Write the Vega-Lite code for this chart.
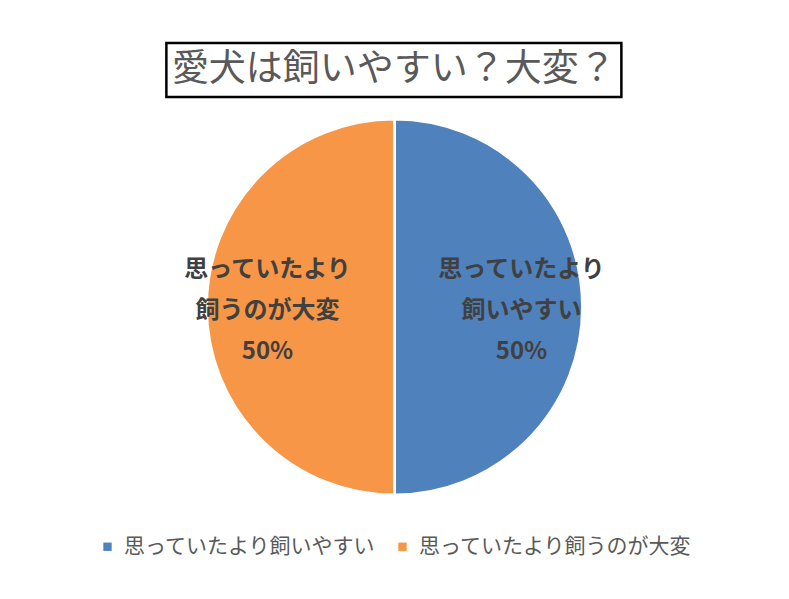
{
  "$schema": "https://vega.github.io/schema/vega-lite/v6.json",
  "padding": {"left": 0, "right": 0, "top": 41, "bottom": 0},
  "background": "white",
  "spacing": 11,
  "center": true,
  "config": {"font": "Noto Sans CJK JP", "legend": {"layout": {"bottom": {"anchor": "middle"}}}},
  "vconcat": [
    {
      "width": 455,
      "height": 54,
      "view": {"stroke": "#000000", "strokeWidth": 2.5, "fill": "white"},
      "data": {"values": [{"title": "愛犬は飼いやすい？大変？"}]},
      "mark": {"type": "text", "fontSize": 37, "color": "#595959", "align": "center", "baseline": "middle"},
      "encoding": {"text": {"field": "title"}}
    },
    {
      "width": 789,
      "height": 394,
      "view": {"stroke": null},
      "data": {
        "values": [
          {"answer": "思っていたより飼いやすい", "share": 50, "idx": 1, "label": "思っていたより\n飼いやすい\n50%"},
          {"answer": "思っていたより飼うのが大変", "share": 50, "idx": 2, "label": "思っていたより\n飼うのが大変\n50%"}
        ]
      },
      "encoding": {
        "theta": {"field": "share", "type": "quantitative", "stack": true},
        "order": {"field": "idx", "type": "quantitative"},
        "color": {
          "field": "answer",
          "type": "nominal",
          "scale": {"domain": ["思っていたより飼いやすい", "思っていたより飼うのが大変"], "range": ["#4F81BD", "#F79646"]},
          "legend": {
            "title": null,
            "orient": "bottom",
            "direction": "horizontal",
            "offset": 32,
            "symbolType": "square",
            "symbolSize": 70,
            "symbolStrokeWidth": 0,
            "labelFontSize": 21,
            "labelColor": "#595959",
            "labelLimit": 400,
            "labelOffset": 6,
            "columnPadding": 16
          }
        }
      },
      "layer": [
        {"mark": {"type": "arc", "outerRadius": 188, "stroke": "white", "strokeWidth": 3}},
        {
          "mark": {"type": "text", "radius": 127, "fontSize": 24, "fontWeight": "bold", "color": "#404040", "lineBreak": "\n", "lineHeight": 41, "align": "center", "baseline": "middle", "dy": -37},
          "encoding": {"text": {"field": "label"}, "color": {"value": "#404040"}}
        }
      ]
    }
  ]
}
